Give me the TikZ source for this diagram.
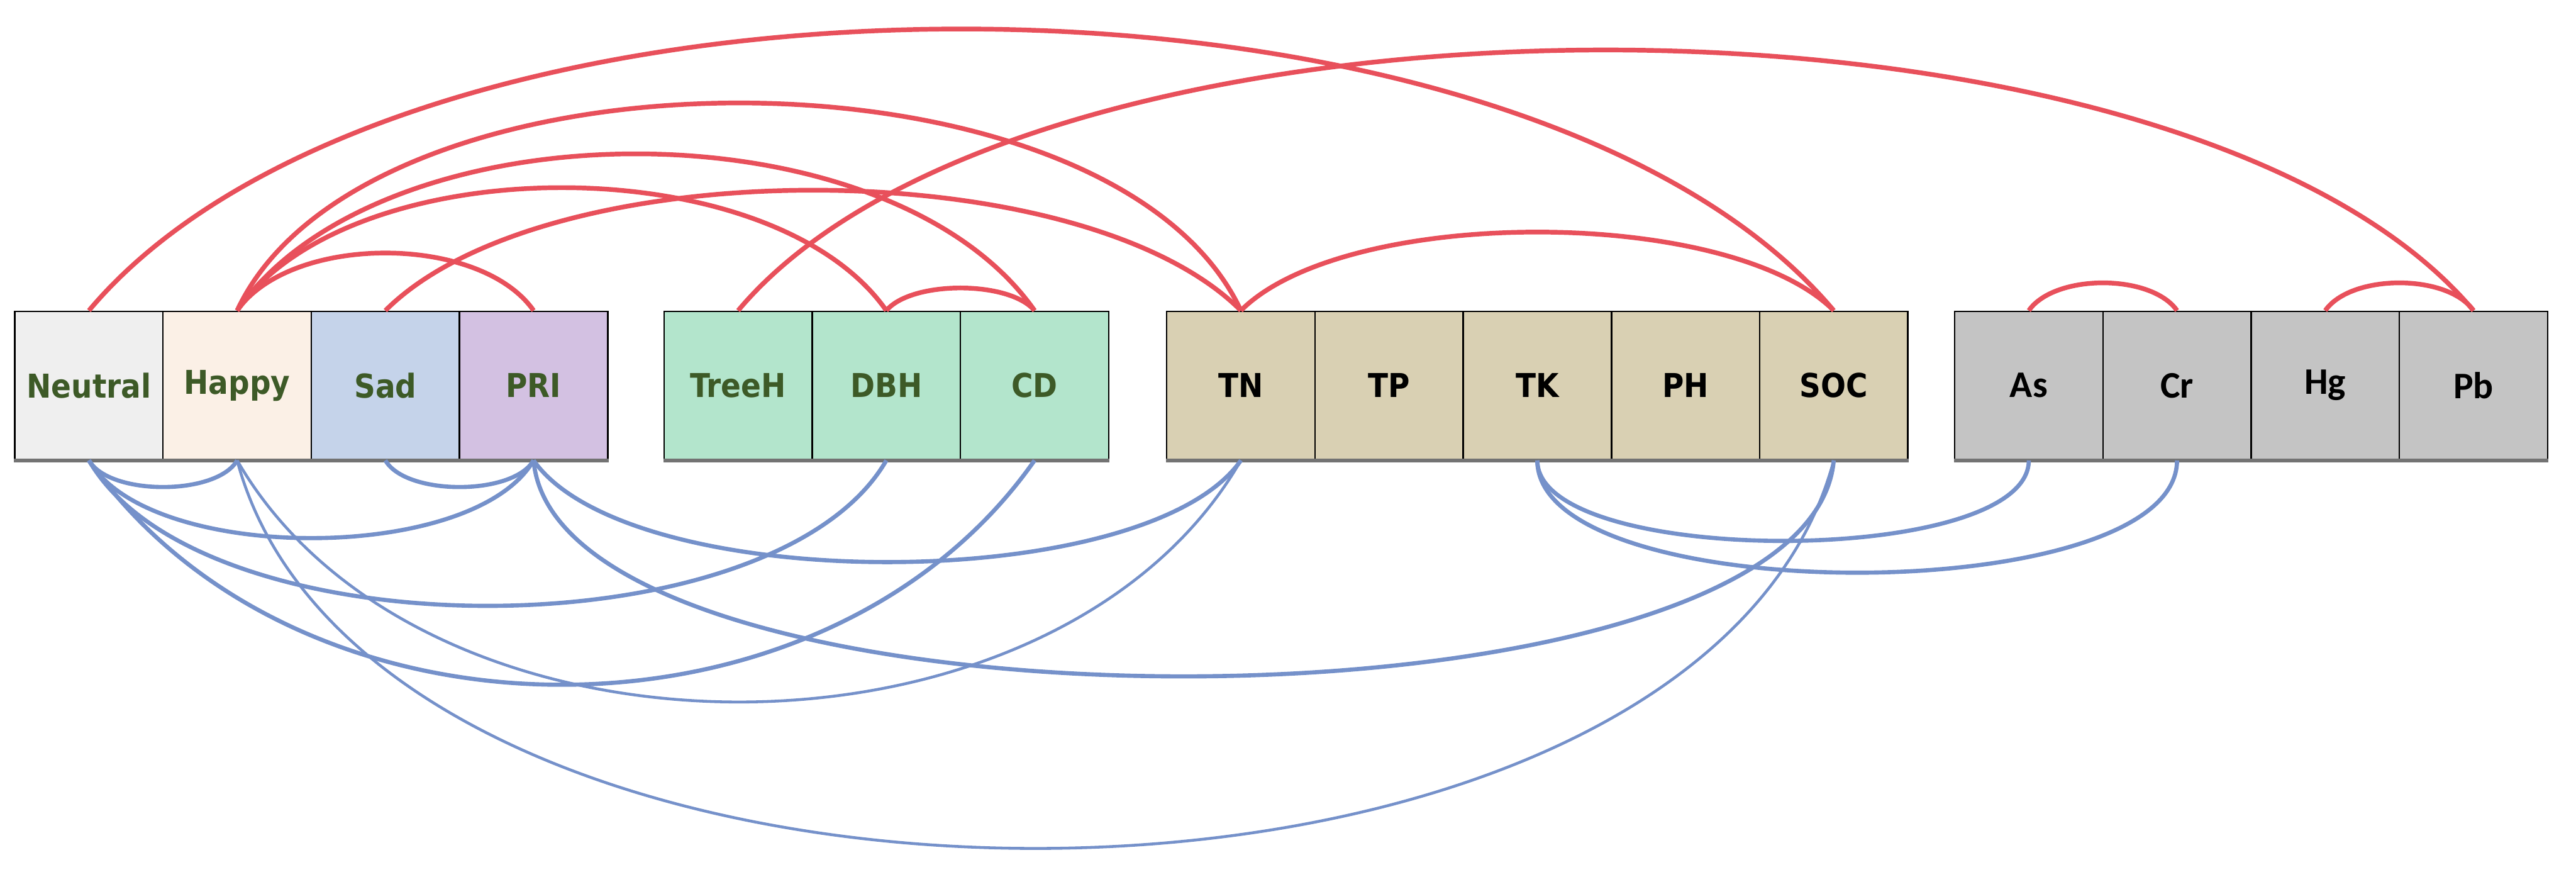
\documentclass[tikz,border=0pt]{standalone}
\usepackage{fontspec}
\newfontfamily\cellfont{DejaVu Sans Condensed}
\newfontfamily\metalfont{Carlito}
\usetikzlibrary{positioning}

\definecolor{neuFill}{HTML}{EFEFEF}
\definecolor{hapFill}{HTML}{FBF0E6}
\definecolor{sadFill}{HTML}{C5D3EA}
\definecolor{priFill}{HTML}{D3C1E2}
\definecolor{treeFill}{HTML}{B3E5CC}
\definecolor{soilFill}{HTML}{D9D0B3}
\definecolor{metalFill}{HTML}{C4C4C4}
\definecolor{txtGreen}{HTML}{3D5A27}
\definecolor{linkRed}{HTML}{E8505B}
\definecolor{linkBlue}{HTML}{7591CA}

\begin{document}
\begin{tikzpicture}[
  cell/.style={draw=black, line width=0.3pt, minimum width=1cm, minimum height=1cm,
    inner sep=0pt, font=\cellfont\bfseries\fontsize{6.3}{7}\selectfont},
  shade/.style={draw=black!55, line width=0.7pt},
  poslink/.style={draw=linkRed, line width=0.9pt},
  neglink/.style={draw=linkBlue, line width=0.8pt},
  thinlink/.style={draw=linkBlue, line width=0.55pt}
]
  \useasboundingbox (0,0) rectangle (17.38,5.912);

  % Emocoes
  \foreach \n/\t/\x/\c in {neu/Neutral/0.6/neuFill, hap/Happy/1.6/hapFill,
                           sad/Sad/2.6/sadFill, pri/PRI/3.6/priFill} {
    \node[cell, text=txtGreen, fill=\c] (\n) at (\x,3.312) {\t};
  }
  % Arvores
  \foreach \n/\t [count=\i from 0] in {tree/TreeH, dbh/DBH, cd/CD} {
    \node[cell, text=txtGreen, fill=treeFill] (\n) at ({4.98+\i},3.312) {\t};
  }
  % Solo
  \foreach \n/\t [count=\i from 0] in {tn/TN, tp/TP, tk/TK, ph/PH, soc/SOC} {
    \node[cell, fill=soilFill] (\n) at ({8.372+\i},3.312) {\t};
  }
  % Metais
  \foreach \n/\t [count=\i from 0] in {as/As, cr/Cr, hg/Hg, pb/Pb} {
    \node[cell, font=\metalfont\bfseries\fontsize{7.2}{8}\selectfont, fill=metalFill] (\n) at ({13.688+\i},3.312) {\t};
  }
  \draw[shade] (neu.south west) -- (pri.south east);
  \draw[shade] (tree.south west) -- (cd.south east);
  \draw[shade] (tn.south west) -- (soc.south east);
  \draw[shade] (as.south west) -- (pb.south east);

  % Ligacoes positivas: de / para / angulo / looseness
  \foreach \a/\b/\t/\l in {neu/soc/50/0.72, tree/pb/50/0.67, hap/tn/65/0.78,
      sad/tn/45/0.68, hap/cd/55/0.82, hap/dbh/55/0.79, hap/pri/55/0.81,
      dbh/cd/50/0.68, tn/soc/45/0.64, as/cr/55/0.78, hg/pb/55/0.78} {
    \pgfmathsetmacro{\u}{180-\t}
    \draw[poslink] (\a.north) to[out=\t, in=\u, looseness=\l] (\b.north);
  }

  % Ligacoes negativas
  \foreach \a/\b/\t/\l in {neu/hap/60/0.71, sad/pri/60/0.71, neu/pri/60/0.69,
      neu/dbh/60/0.72, neu/cd/55/0.99, pri/tn/55/0.60, pri/soc/85/0.57,
      tk/as/90/0.56, tk/cr/90/0.60} {
    \pgfmathsetmacro{\u}{\t-180}
    \draw[neglink] (\a.south) to[out=-\t, in=\u, looseness=\l] (\b.south);
  }
  \foreach \a/\b/\t/\l in {hap/tn/60/0.95, hap/soc/75/0.86} {
    \pgfmathsetmacro{\u}{\t-180}
    \draw[thinlink] (\a.south) to[out=-\t, in=\u, looseness=\l] (\b.south);
  }
\end{tikzpicture}
\end{document}
